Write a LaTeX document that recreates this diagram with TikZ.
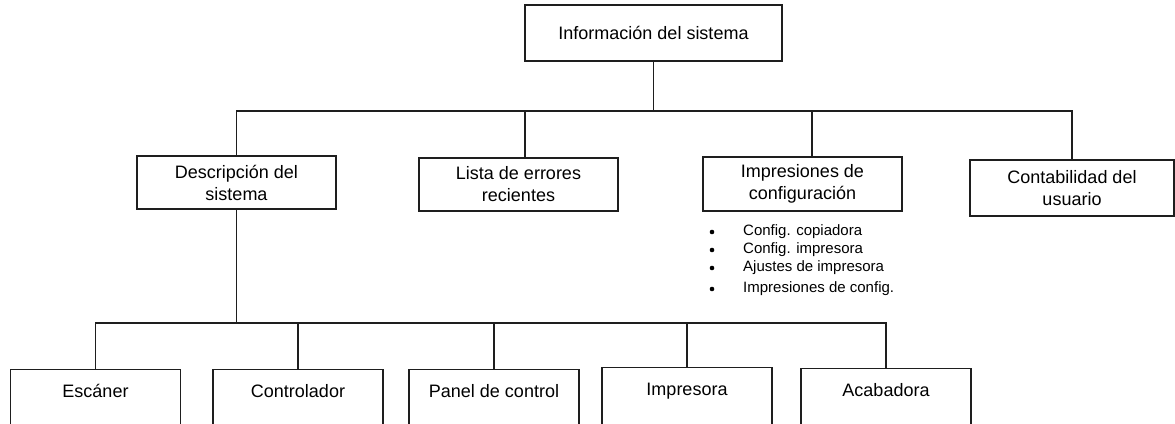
\documentclass[tikz,border=0pt]{standalone}
\usepackage{fontspec}
\setmainfont{Liberation Sans}
\usetikzlibrary{positioning,calc}
\definecolor{LineGray}{RGB}{30,30,30}
\tikzset{
  box/.style={draw=LineGray,line width=1.2pt,align=center,inner sep=2pt,
    font=\fontsize{18}{22}\selectfont},
  lowbox/.style={box,anchor=north,minimum width=170,inner ysep=0pt,
    text height=28pt,text depth=40pt},
  link/.style={draw=LineGray,line width=1.2pt},
  item/.style={anchor=west,inner sep=0pt,text height=10pt,text depth=3pt,
    font=\fontsize{15}{18}\selectfont},
}
\begin{document}
\begin{tikzpicture}[x=1pt,y=-1pt]
        \useasboundingbox (0,0) rectangle (1175,423);
        % top level
        \node[box,minimum width=257,minimum height=56] (info) at (653.5,33) {Información del sistema};
        % second level
        \node[box,minimum width=199,minimum height=53] (desc) at (236.5,182.5) {Descripción del\\sistema};
        \node[box,minimum width=199,minimum height=53] (lista) at (518.5,184.5) {Lista de errores\\recientes};
        \node[box,minimum width=199,minimum height=54] (impr) at (802.5,184) {Impresiones de\\configuración};
        \node[box,minimum width=204,minimum height=56] (cont) at (1072,188) {Contabilidad del\\usuario};
        \coordinate (ja) at (654,111);
        \draw[link] (info.south) -- (info.south |- ja);
        \draw[link] (desc.north) -- (desc.north |- ja) -- (cont.north |- ja) -- (cont.north);
        \draw[link] ([xshift=6.5pt]lista.north) -- ([xshift=6.5pt]lista.north |- ja);
        \draw[link] ([xshift=9.5pt]impr.north) -- ([xshift=9.5pt]impr.north |- ja);
        % list under the configuration prints
        \foreach \y/\t [count=\i] in {232/Config. copiadora,250/Config. impresora,
            268/Ajustes de impresora,289/Impresiones de config.}{
          \fill[black] (712,\y) circle (2.3);
          \node[item] (item\i) at (743,\y) {\t};
        }
        % third level
        \node[lowbox] (esc) at (95.5,369) {Escáner};
        \node[lowbox] (ctrl) at (298,369) {Controlador};
        \node[lowbox] (panel) at (494,369) {Panel de control};
        \node[lowbox] (imp) at (687,367) {Impresora};
        \node[lowbox] (acab) at (886,368) {Acabadora};
        \coordinate (jb) at (236,323);
        \draw[link] (desc.south) -- (desc.south |- jb);
        \draw[link] (esc.north) -- (esc.north |- jb) -- (acab.north |- jb) -- (acab.north);
        \foreach \n in {ctrl,panel,imp}
          \draw[link] (\n.north) -- (\n.north |- jb);
      \end{tikzpicture}
\end{document}
